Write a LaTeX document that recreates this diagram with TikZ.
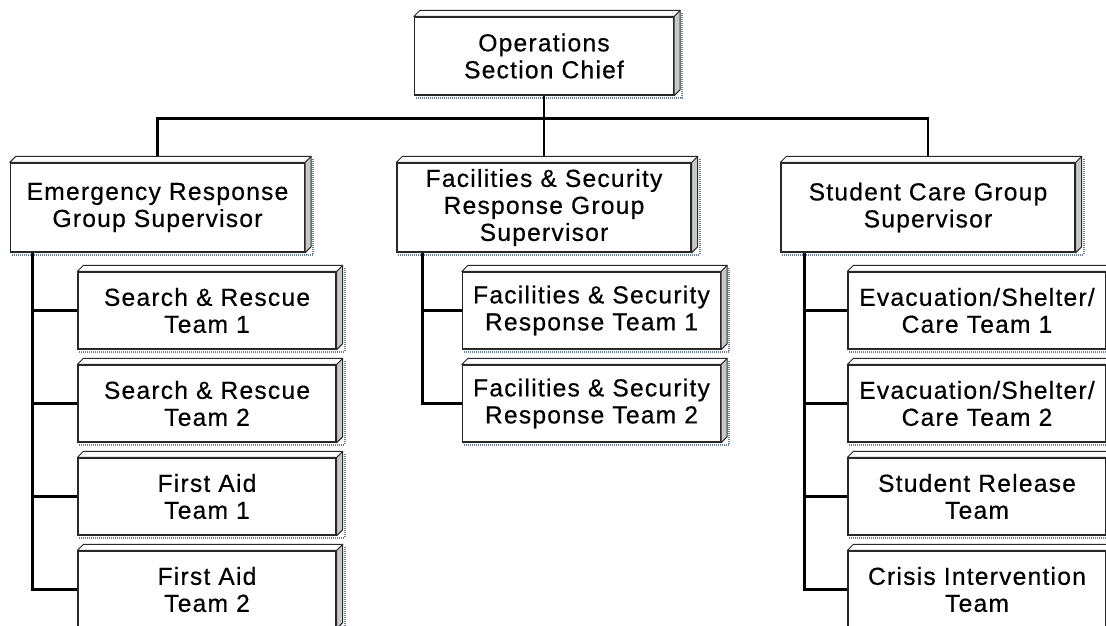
\documentclass[tikz,border=0pt]{standalone}
\usepackage{fontspec}
\newfontfamily\chartfont[LetterSpace=5,FakeBold=0.5]{Liberation Sans}
\usepackage{tikz}
\usetikzlibrary{calc}
\definecolor{sidegray}{RGB}{200,200,200}
\definecolor{shadowblue}{RGB}{110,125,150}
\definecolor{edgegray}{RGB}{40,40,40}
\newcommand{\slabshadow}[1]{%
\draw[dropshadow] ([xshift=2pt,yshift=-2pt]#1.south west) -- ([xshift=8pt,yshift=-2pt]#1.south east) -- ([xshift=8pt,yshift=4pt]#1.north east);}
\newcommand{\slab}[1]{%
\filldraw[sideface] (#1.north east) -- ([xshift=6pt,yshift=6pt]#1.north east) -- ([xshift=6pt,yshift=6pt]#1.south east) -- (#1.south east) -- cycle;
\filldraw[topface] (#1.north west) -- ([xshift=6pt,yshift=6pt]#1.north west) -- ([xshift=6pt,yshift=6pt]#1.north east) -- (#1.north east) -- cycle;}

\tikzset{
  chartbox/.style={draw=edgegray, line width=1.3pt, fill=white, align=center, inner sep=0pt,
    font=\chartfont\fontsize{24.6}{27}\selectfont},
  chiefbox/.style={chartbox, minimum width=259pt, minimum height=78pt},
  supbox/.style={chartbox, minimum width=294pt, minimum height=89pt},
  teambox/.style={chartbox, minimum width=258pt, minimum height=77pt},
  sideface/.style={draw=edgegray, line width=1pt, fill=sidegray, line join=round},
  topface/.style={draw=edgegray, line width=1pt, fill=white, line join=round},
  dropshadow/.style={draw=shadowblue, line width=2pt, dash pattern=on 1pt off 1pt},
  link/.style={draw=black, line width=2.6pt}
}

\begin{document}
\begin{tikzpicture}[x=1pt, y=-1pt]
\useasboundingbox (0,0) rectangle (1106,625);
\clip (0,0) rectangle (1106,625);

\node[chiefbox] (chief) at (544,56) {Operations\\Section Chief};

\node[supbox] (ergs)  at (157.5,207.5) {Emergency Response\\Group Supervisor};
\node[supbox] (fsrgs) at (544,207.5)   {Facilities \& Security\\Response Group\\Supervisor};
\node[supbox] (scgs)  at (928,207.5)   {Student Care Group\\Supervisor};

% emergency response teams
\node[teambox] (sr1) at (207,310.5) {Search \& Rescue\\Team 1};
\node[teambox] (sr2) at (207,403.5) {Search \& Rescue\\Team 2};
\node[teambox] (fa1) at (207,496.5) {First Aid\\Team 1};
\node[teambox] (fa2) at (207,589.5) {First Aid\\Team 2};
% facilities teams
\node[teambox] (fs1) at (591.5,310.5) {Facilities \& Security\\Response Team 1};
\node[teambox] (fs2) at (591.5,403.5) {Facilities \& Security\\Response Team 2};
% student care teams
\node[teambox] (esc1) at (977,310.5) {Evacuation/Shelter/\\Care Team 1};
\node[teambox] (esc2) at (977,403.5) {Evacuation/Shelter/\\Care Team 2};
\node[teambox] (srt)  at (977,496.5) {Student Release\\Team};
\node[teambox] (cit)  at (977,589.5) {Crisis Intervention\\Team};

\foreach \n in {chief,ergs,fsrgs,scgs,sr1,sr2,fa1,fa2,fs1,fs2,esc1,esc2,srt,cit} \slabshadow{\n};

\coordinate (bus) at ($(chief.south)+(0,23)$);
\draw[link] (chief.south) -- (fsrgs.north);
\draw[link] (ergs.north) |- (bus) -| (scgs.north);

\foreach \kid in {sr1,sr2,fa1,fa2} \draw[link] ([xshift=22.5pt]ergs.south west) |- (\kid.west);
\foreach \kid in {fs1,fs2} \draw[link] ([xshift=26pt]fsrgs.south west) |- (\kid.west);
\foreach \kid in {esc1,esc2,srt,cit} \draw[link] ([xshift=24pt]scgs.south west) |- (\kid.west);

\foreach \n in {chief,ergs,fsrgs,scgs,sr1,sr2,fa1,fa2,fs1,fs2,esc1,esc2,srt,cit} \slab{\n};
\end{tikzpicture}
\end{document}
